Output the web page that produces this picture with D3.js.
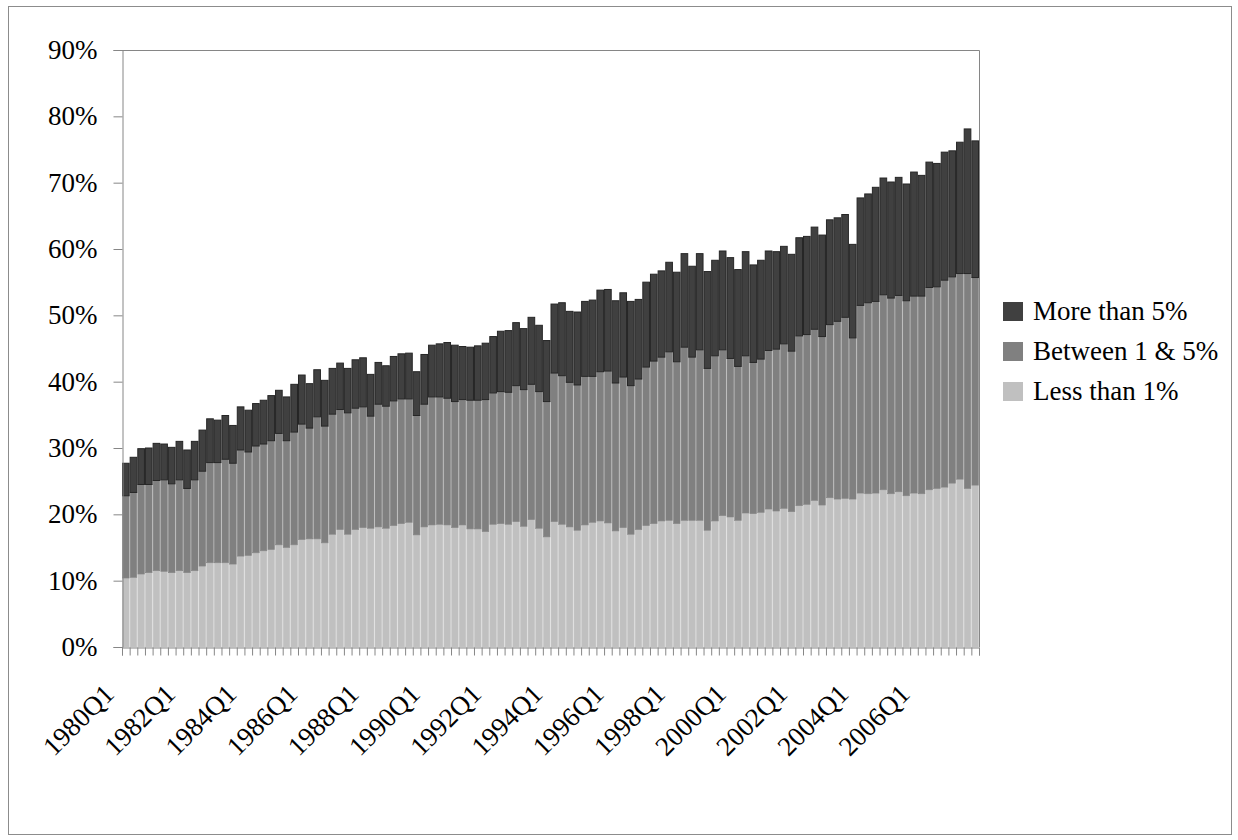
<!DOCTYPE html>
<html>
<head>
<meta charset="utf-8">
<script src="https://cdn.jsdelivr.net/npm/d3@7"></script>
<style>
  body { margin: 0; background: #fff; }
  svg { display: block; }
</style>
</head>
<body>
<svg id="chart" width="1238" height="840"></svg>
<script>
const FONT = "'Liberation Serif', 'Times New Roman', Times, 'DejaVu Serif', serif";

// share of value, by size class, quarterly 1980Q1 - 2007Q4
const lessThan1 = [
  10.4, 10.5, 11.0, 11.2, 11.5, 11.4, 11.2, 11.5, 11.2, 11.5,
  12.2, 12.7, 12.7, 12.7, 12.5, 13.7, 13.8, 14.2, 14.5, 14.7,
  15.4, 15.0, 15.4, 16.2, 16.3, 16.3, 15.7, 17.0, 17.7, 17.0,
  17.7, 18.0, 17.9, 18.1, 17.9, 18.3, 18.6, 18.8, 16.9, 18.1,
  18.4, 18.5, 18.4, 18.0, 18.4, 17.8, 17.8, 17.4, 18.5, 18.6,
  18.5, 18.9, 18.2, 19.2, 17.9, 16.6, 18.9, 18.5, 18.1, 17.6,
  18.4, 18.8, 19.0, 18.7, 17.5, 18.0, 17.0, 17.7, 18.3, 18.6,
  19.0, 19.1, 18.6, 19.1, 19.1, 19.1, 17.6, 19.0, 19.8, 19.6,
  19.1, 20.2, 20.1, 20.3, 20.8, 20.5, 20.9, 20.4, 21.3, 21.5,
  22.1, 21.4, 22.5, 22.3, 22.4, 22.3, 23.2, 23.1, 23.2, 23.7,
  23.1, 23.4, 22.8, 23.2, 23.1, 23.7, 23.9, 24.1, 24.7, 25.3,
  23.9, 24.4,
];
const between1and5 = [
  12.4, 12.8, 13.5, 13.3, 13.6, 13.8, 13.4, 13.7, 12.7, 13.7,
  14.3, 15.1, 15.1, 15.6, 15.2, 16.0, 15.6, 16.1, 16.1, 16.4,
  16.8, 16.1, 17.0, 17.4, 16.7, 18.4, 17.6, 18.1, 18.1, 18.3,
  18.3, 18.2, 16.9, 18.5, 18.4, 18.8, 18.8, 18.6, 18.0, 18.5,
  19.3, 19.2, 19.1, 19.0, 18.9, 19.4, 19.4, 19.9, 19.8, 19.9,
  19.9, 20.5, 20.6, 20.4, 20.6, 20.4, 22.4, 22.4, 21.8, 21.9,
  22.4, 22.0, 22.5, 22.9, 22.3, 22.7, 22.4, 22.7, 23.9, 24.5,
  24.7, 25.4, 24.4, 26.1, 24.6, 25.7, 24.4, 24.9, 25.0, 23.9,
  23.2, 23.7, 22.8, 23.1, 23.9, 24.4, 24.8, 24.2, 25.6, 25.6,
  25.8, 25.4, 26.1, 26.8, 27.3, 24.3, 28.3, 28.8, 28.9, 29.4,
  29.5, 29.6, 29.4, 29.7, 29.8, 30.5, 30.4, 31.2, 31.1, 31.0,
  32.4, 31.3,
];
const moreThan5 = [
  4.9, 5.3, 5.4, 5.5, 5.6, 5.4, 5.5, 5.8, 5.8, 5.8,
  6.2, 6.6, 6.4, 6.6, 5.7, 6.5, 6.3, 6.4, 6.6, 6.8,
  6.5, 6.6, 7.2, 7.4, 6.7, 7.1, 6.9, 6.9, 7.0, 6.7,
  7.3, 7.4, 6.3, 6.3, 6.1, 6.7, 6.8, 6.9, 6.6, 7.5,
  7.8, 8.0, 8.4, 8.5, 8.0, 8.0, 8.2, 8.5, 8.5, 9.1,
  9.3, 9.5, 9.2, 10.1, 10.0, 9.2, 10.4, 11.0, 10.7, 11.0,
  11.3, 11.5, 12.3, 12.3, 12.4, 12.7, 12.7, 12.0, 12.8, 13.1,
  13.0, 13.5, 13.5, 14.1, 13.7, 14.5, 14.6, 14.4, 14.9, 15.2,
  14.6, 15.7, 14.7, 14.9, 15.0, 14.7, 14.7, 14.6, 14.8, 14.8,
  15.4, 15.3, 15.8, 15.6, 15.5, 14.1, 16.2, 16.4, 17.2, 17.6,
  17.5, 17.8, 17.6, 18.7, 18.2, 18.9, 18.6, 19.3, 19.0, 19.8,
  21.8, 20.6,
];

const seriesKeys = ['low', 'mid', 'high'];
const seriesNames = { low: 'Less than 1%', mid: 'Between 1 & 5%', high: 'More than 5%' };
const yTicks = [0, 10, 20, 30, 40, 50, 60, 70, 80, 90];
const xTickLabels = ['1980Q1', '1982Q1', '1984Q1', '1986Q1', '1988Q1', '1990Q1', '1992Q1',
  '1994Q1', '1996Q1', '1998Q1', '2000Q1', '2002Q1', '2004Q1', '2006Q1'];

const quarters = [];
for (let yr = 1980; yr <= 2007; yr++) {
  for (let q = 1; q <= 4; q++) quarters.push(`${yr}Q${q}`);
}

const rows = quarters.map((q, i) => ({
  q, low: lessThan1[i], mid: between1and5[i], high: moreThan5[i],
}));

const fills = { low: '#c0c0c0', mid: '#808080', high: '#404040' };
const strokes = { low: '#c6c6c6', mid: '#848484', high: '#262626' };

const plot = { left: 122, right: 979, top: 50, bottom: 647 };
const AXIS_COLOR = '#868686';

const svg = d3.select('#chart');

// outer chart border
svg.append('rect')
  .attr('x', 8.5).attr('y', 6.5)
  .attr('width', 1223).attr('height', 828)
  .attr('fill', 'none').attr('stroke', '#8c8c8c');

const x = d3.scaleBand().domain(quarters).range([plot.left, plot.right]).padding(0);
const xIndex = d3.scaleLinear().domain([0, quarters.length]).range([plot.left, plot.right]);
const y = d3.scaleLinear().domain([0, 90]).range([plot.bottom, plot.top]);

const stacked = d3.stack().keys(seriesKeys)(rows);

const layers = svg.append('g').selectAll('g')
  .data(stacked)
  .join('g')
  .attr('fill', (d) => fills[d.key])
  .attr('stroke', (d) => strokes[d.key])
  .attr('stroke-width', (d) => (d.key === 'high' ? 1 : 0.6));

layers.selectAll('rect')
  .data((d) => d)
  .join('rect')
  .attr('x', (d) => x(d.data.q) + 0.5)
  .attr('width', x.bandwidth() - 1)
  .attr('y', (d) => y(d[1]))
  .attr('height', (d) => y(d[0]) - y(d[1]));

// plot frame: top and right
svg.append('path')
  .attr('d', `M${plot.left + 0.5},${plot.top + 0.5}H${plot.right + 0.5}V${plot.bottom}`)
  .attr('fill', 'none').attr('stroke', AXIS_COLOR);

// y axis
const yAxis = svg.append('g')
  .attr('transform', `translate(${plot.left + 0.5},0)`)
  .call(d3.axisLeft(y).tickValues(yTicks).tickFormat((d) => `${d}%`).tickSize(9).tickPadding(16));
yAxis.attr('font-family', null).attr('font-size', null);
yAxis.selectAll('text').style('font-family', FONT).style('font-size', '27px').attr('fill', '#000');

// x axis, ticks on category boundaries
const xAxis = svg.append('g')
  .attr('transform', `translate(0,${plot.bottom + 0.5})`)
  .call(d3.axisBottom(xIndex).tickValues(d3.range(quarters.length + 1)).tickSize(8).tickFormat(''));

[yAxis, xAxis].forEach((g) => {
  g.select('.domain').attr('stroke', AXIS_COLOR);
  g.selectAll('.tick line').attr('stroke', AXIS_COLOR);
});

// rotated category labels, every 8th quarter
svg.append('g').selectAll('text')
  .data(xTickLabels)
  .join('text')
  .attr('transform', (d) => `translate(${x(d) + x.bandwidth() / 2 - 17},${plot.bottom + 42}) rotate(-45)`)
  .attr('text-anchor', 'end')
  .attr('dy', '0.35em')
  .style('font-family', FONT)
  .style('font-size', '27px')
  .text((d) => d);

// legend
const legendKeys = ['high', 'mid', 'low'];
const legend = svg.append('g').selectAll('g')
  .data(legendKeys)
  .join('g')
  .attr('transform', (d, i) => `translate(1003,${302 + i * 40})`);

legend.append('rect')
  .attr('width', 20).attr('height', 19)
  .attr('fill', (d) => fills[d]);

legend.append('text')
  .attr('x', 30).attr('y', 18)
  .style('font-family', FONT)
  .style('font-size', '27px')
  .text((d) => seriesNames[d]);
</script>
</body>
</html>
